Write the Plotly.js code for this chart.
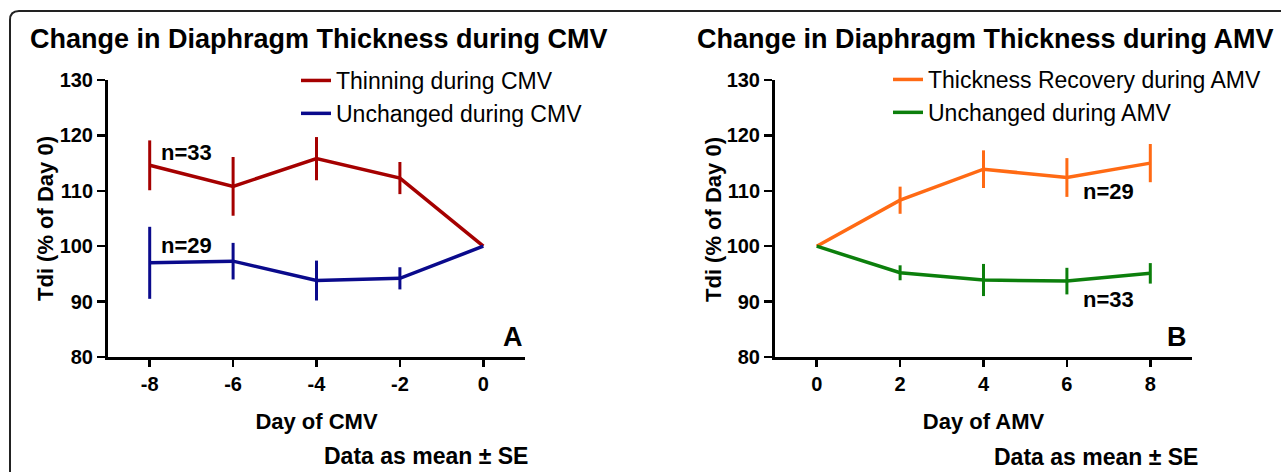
<!DOCTYPE html>
<html>
<head>
<meta charset="utf-8">
<script src="https://cdn.plot.ly/plotly-3.0.1.min.js"></script>
<style>html,body{margin:0;padding:0;background:#fff;}#chart{width:1281px;height:472px;}</style>
</head>
<body>
<div id="chart"></div>
<script>
// ---- data ----
var cmvDays = [-8, -6, -4, -2, 0];
var cmvTickText = ['-8', '-6', '-4', '-2', '0'];
var thinMean = [114.6, 110.8, 115.8, 112.3, 100];
var thinSE = [4.5, 5.3, 3.9, 2.9, 0];
var unchCmvMean = [97.0, 97.3, 93.8, 94.2, 100];
var unchCmvSE = [6.5, 3.3, 3.6, 2.0, 0];

var amvDays = [0, 2, 4, 6, 8];
var amvTickText = ['0', '2', '4', '6', '8'];
var recMean = [100, 108.3, 113.9, 112.4, 115.0];
var recSE = [0, 2.45, 3.4, 3.5, 3.45];
var unchAmvMean = [100, 95.2, 93.9, 93.7, 95.1];
var unchAmvSE = [0, 1.35, 2.9, 2.4, 1.85];

var yTickVals = [80, 90, 100, 110, 120, 130];

// ---- layout helpers ----
var W = 1281, H = 472;
function px(x) { return x / W; }
function py(y) { return 1 - y / H; }
var FONT = 'Liberation Sans, Arial, Helvetica, sans-serif';

var C_RED = '#A50000', C_NAVY = '#0A0A8C', C_ORANGE = '#FF6A14', C_GREEN = '#0C7F0C';

function tr(x, y, se, name, color, xa, ya, leg) {
  return {
    type: 'scatter', mode: 'lines', x: x, y: y, name: name,
    xaxis: xa, yaxis: ya, legend: leg,
    line: { color: color, width: 3.5 },
    error_y: { type: 'data', array: se, visible: true, width: 0, thickness: 3, color: color },
    hoverinfo: 'x+y'
  };
}

var data = [
  tr(cmvDays, thinMean, thinSE, 'Thinning during CMV', C_RED, 'x', 'y', 'legend'),
  tr(cmvDays, unchCmvMean, unchCmvSE, 'Unchanged during CMV', C_NAVY, 'x', 'y', 'legend'),
  tr(amvDays, recMean, recSE, 'Thickness Recovery during AMV', C_ORANGE, 'x2', 'y2', 'legend2'),
  tr(amvDays, unchAmvMean, unchAmvSE, 'Unchanged during AMV', C_GREEN, 'x2', 'y2', 'legend2')
];

function xaxis(dom, rng, vals, txt, title, anchor) {
  return {
    domain: dom, range: rng, anchor: anchor,
    tickvals: vals, ticktext: txt,
    showline: true, linecolor: '#000', linewidth: 3,
    ticks: 'outside', ticklen: 7, tickwidth: 2.5, tickcolor: '#000',
    showgrid: false, zeroline: false, fixedrange: true,
    tickfont: { family: FONT, size: 20, color: '#000', weight: 'bold' },
    title: { text: '<b>' + title + '</b>', font: { family: FONT, size: 22, color: '#000' }, standoff: 20 },
    automargin: 'bottom'
  };
}
function yaxis(dom, anchor) {
  return {
    domain: dom, range: [80, 130], anchor: anchor,
    tickvals: yTickVals,
    showline: true, linecolor: '#000', linewidth: 3,
    ticks: 'outside', ticklen: 8, tickwidth: 2.5, tickcolor: '#000',
    showgrid: false, zeroline: false, fixedrange: true,
    tickfont: { family: FONT, size: 20, color: '#000', weight: 'bold' },
    automargin: false
  };
}

var yDom = [py(357), py(80)];
var yTitleText = 'Tdi (% of Day 0)';

function ann(text, x, y, xref, yref, size, xanchor, bold, angle) {
  return {
    text: bold ? '<b>' + text + '</b>' : text, x: x, y: y, xref: xref, yref: yref,
    xanchor: xanchor, yanchor: 'middle', showarrow: false, textangle: angle || 0,
    font: { family: FONT, size: size, color: '#000' }
  };
}

var legendCommon = {
  xanchor: 'left', yanchor: 'top',
  bgcolor: 'rgba(0,0,0,0)', borderwidth: 0, itemwidth: 30,
  font: { family: FONT, size: 23, color: '#000' }, itemclick: false, itemdoubleclick: false
};

var layout = {
  width: W, height: H,
  margin: { l: 0, r: 0, t: 0, b: 0, pad: 0, autoexpand: false },
  paper_bgcolor: '#fff', plot_bgcolor: '#fff',
  showlegend: true,
  xaxis: xaxis([px(108), px(525)], [-9, 1], cmvDays, cmvTickText, 'Day of CMV', 'y'),
  yaxis: yaxis(yDom, 'x'),
  xaxis2: xaxis([px(775), px(1192)], [-1, 9], amvDays, amvTickText, 'Day of AMV', 'y2'),
  yaxis2: yaxis(yDom, 'x2'),
  legend: Object.assign({ x: px(296), y: py(59) }, legendCommon),
  legend2: Object.assign({ x: px(888), y: py(58) }, legendCommon),
  annotations: [
    ann('Change in Diaphragm Thickness during CMV', px(28), py(39), 'paper', 'paper', 27, 'left', true),
    ann('Change in Diaphragm Thickness during AMV', px(695), py(39), 'paper', 'paper', 27, 'left', true),
    ann(yTitleText, px(45), py(219), 'paper', 'paper', 22, 'center', true, -90),
    ann(yTitleText, px(713), py(219), 'paper', 'paper', 22, 'center', true, -90),
    ann('n=33', -7.77, 117.0, 'x', 'y', 22, 'left', true),
    ann('n=29', -7.77, 100.1, 'x', 'y', 22, 'left', true),
    ann('n=29', 6.34, 109.8, 'x2', 'y2', 22, 'left', true),
    ann('n=33', 6.34, 90.3, 'x2', 'y2', 22, 'left', true),
    ann('A', 1.0, 83.6, 'x', 'y', 27, 'right', true),
    ann('B', 8.92, 83.6, 'x2', 'y2', 27, 'right', true),
    ann('Data as mean \u00B1 SE', px(426), py(456), 'paper', 'paper', 23, 'center', true),
    ann('Data as mean \u00B1 SE', px(1096), py(457), 'paper', 'paper', 23, 'center', true)
  ],
  shapes: [{
    type: 'path', xref: 'paper', yref: 'paper',
    path: 'M ' + px(10) + ' ' + py(480) + ' L ' + px(10) + ' ' + py(20) +
          ' Q ' + px(10) + ' ' + py(11) + ' ' + px(19) + ' ' + py(11) +
          ' L ' + px(1290) + ' ' + py(11),
    line: { color: '#222', width: 2 }
  }]
};

Plotly.newPlot('chart', data, layout, { displayModeBar: false, staticPlot: true });
</script>
</body>
</html>
